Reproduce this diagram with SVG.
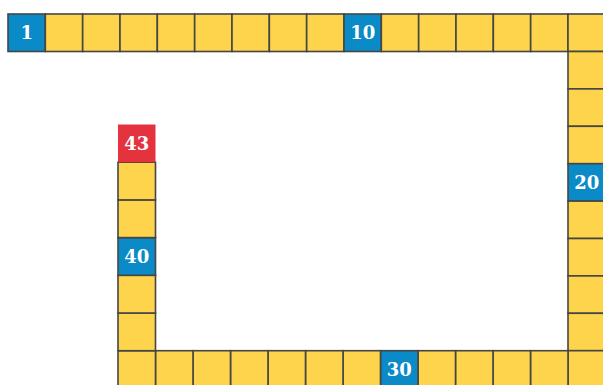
<svg xmlns="http://www.w3.org/2000/svg" width="603" height="385" viewBox="0 0 603 385">
<style>
rect{stroke:#454545;stroke-width:1.6}
.y{fill:#FDD44C}
.b{fill:#0A8AC6}
.r{fill:#E5323F}
text{font-family:"DejaVu Serif","Liberation Serif",serif;font-weight:bold;font-size:18px;fill:#fff;text-anchor:middle}
</style>
<rect width="603" height="385" fill="#fff" style="stroke:none"/>
<g id="sq1"><rect class="b" x="8" y="14" width="37.33" height="37.5"/><text x="26.7" y="39">1</text></g>
<g id="sq2"><rect class="y" x="45.33" y="14" width="37.33" height="37.5"/></g>
<g id="sq3"><rect class="y" x="82.67" y="14" width="37.33" height="37.5"/></g>
<g id="sq4"><rect class="y" x="120" y="14" width="37.33" height="37.5"/></g>
<g id="sq5"><rect class="y" x="157.33" y="14" width="37.33" height="37.5"/></g>
<g id="sq6"><rect class="y" x="194.67" y="14" width="37.33" height="37.5"/></g>
<g id="sq7"><rect class="y" x="232" y="14" width="37.33" height="37.5"/></g>
<g id="sq8"><rect class="y" x="269.33" y="14" width="37.33" height="37.5"/></g>
<g id="sq9"><rect class="y" x="306.67" y="14" width="37.33" height="37.5"/></g>
<g id="sq10"><rect class="b" x="344" y="14" width="37.33" height="37.5"/><text x="362.7" y="39">10</text></g>
<g id="sq11"><rect class="y" x="381.33" y="14" width="37.33" height="37.5"/></g>
<g id="sq12"><rect class="y" x="418.67" y="14" width="37.33" height="37.5"/></g>
<g id="sq13"><rect class="y" x="456" y="14" width="37.33" height="37.5"/></g>
<g id="sq14"><rect class="y" x="493.33" y="14" width="37.33" height="37.5"/></g>
<g id="sq15"><rect class="y" x="530.67" y="14" width="37.33" height="37.5"/></g>
<g id="sq16"><rect class="y" x="568" y="14" width="37.33" height="37.5"/></g>
<g id="sq17"><rect class="y" x="568" y="51.5" width="37.33" height="37.4"/></g>
<g id="sq18"><rect class="y" x="568" y="88.9" width="37.33" height="37.4"/></g>
<g id="sq19"><rect class="y" x="568" y="126.3" width="37.33" height="37.4"/></g>
<g id="sq20"><rect class="b" x="568" y="163.7" width="37.33" height="37.4"/><text x="586.7" y="189">20</text></g>
<g id="sq21"><rect class="y" x="568" y="201.1" width="37.33" height="37.4"/></g>
<g id="sq22"><rect class="y" x="568" y="238.5" width="37.33" height="37.4"/></g>
<g id="sq23"><rect class="y" x="568" y="275.9" width="37.33" height="37.4"/></g>
<g id="sq24"><rect class="y" x="568" y="313.3" width="37.33" height="37.4"/></g>
<g id="sq25"><rect class="y" x="568" y="350.7" width="37.5" height="37.4"/></g>
<g id="sq26"><rect class="y" x="530.5" y="350.7" width="37.5" height="37.4"/></g>
<g id="sq27"><rect class="y" x="493" y="350.7" width="37.5" height="37.4"/></g>
<g id="sq28"><rect class="y" x="455.5" y="350.7" width="37.5" height="37.4"/></g>
<g id="sq29"><rect class="y" x="418" y="350.7" width="37.5" height="37.4"/></g>
<g id="sq30"><rect class="b" x="380.5" y="350.7" width="37.5" height="37.4"/><text x="399.25" y="376">30</text></g>
<g id="sq31"><rect class="y" x="343" y="350.7" width="37.5" height="37.4"/></g>
<g id="sq32"><rect class="y" x="305.5" y="350.7" width="37.5" height="37.4"/></g>
<g id="sq33"><rect class="y" x="268" y="350.7" width="37.5" height="37.4"/></g>
<g id="sq34"><rect class="y" x="230.5" y="350.7" width="37.5" height="37.4"/></g>
<g id="sq35"><rect class="y" x="193" y="350.7" width="37.5" height="37.4"/></g>
<g id="sq36"><rect class="y" x="155.5" y="350.7" width="37.5" height="37.4"/></g>
<g id="sq37"><rect class="y" x="118" y="350.7" width="37.5" height="37.4"/></g>
<g id="sq38"><rect class="y" x="118" y="313" width="37.5" height="37.7"/></g>
<g id="sq39"><rect class="y" x="118" y="275.3" width="37.5" height="37.7"/></g>
<g id="sq40"><rect class="b" x="118" y="237.6" width="37.5" height="37.7"/><text x="136.75" y="263">40</text></g>
<g id="sq41"><rect class="y" x="118" y="199.9" width="37.5" height="37.7"/></g>
<g id="sq42"><rect class="y" x="118" y="162.2" width="37.5" height="37.7"/></g>
<g id="sq43"><rect class="r" x="118" y="124.5" width="37.5" height="37.7" style="stroke:none"/><text x="136.75" y="150">43</text></g>
<g id="connectors"></g>
</svg>
